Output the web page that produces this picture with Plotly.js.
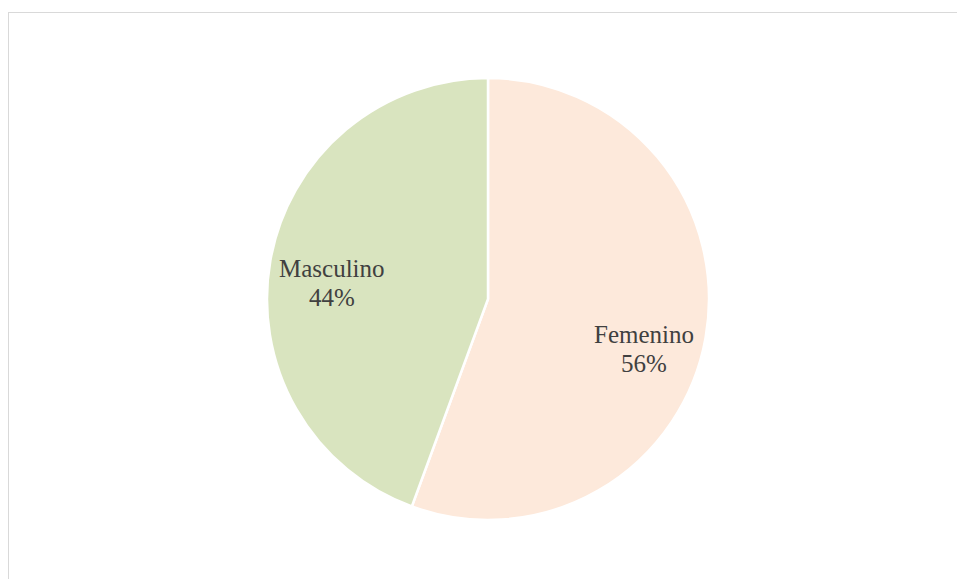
<!DOCTYPE html>
<html>
<head>
<meta charset="utf-8">
<script src="https://cdn.plot.ly/plotly-3.0.1.min.js"></script>
<style>
html,body{margin:0;padding:0;background:#fff;overflow:hidden;}
#frame{position:absolute;left:8px;top:12px;width:1000px;height:700px;border:1.5px solid #d9d9d9;box-sizing:border-box;}
#chart{position:absolute;left:0;top:0;width:957px;height:579px;}
</style>
</head>
<body>
<div id="frame"></div>
<div id="chart"></div>
<script>
const categories = ["Femenino", "Masculino"];
const shares = [55.6, 44.4];
const colors = ["#fde9db", "#d9e4bf"];

const W = 957, H = 579;
const cx = 488, cy = 299, R = 221;
const labelRx = 158, labelRy = 186, labelDrop = 17, lineGap = 14.5;
const font = {family: "Liberation Serif, Times New Roman, serif", size: 25, color: "#404040"};

const total = shares.reduce((a, b) => a + b, 0);
const annotations = [];
let acc = 0;
shares.forEach((v, i) => {
  const mid = (acc + v / 2) / total * 2 * Math.PI;
  acc += v;
  const px = cx + labelRx * Math.sin(mid);
  const py = cy - labelRy * Math.cos(mid) + labelDrop;
  const pct = Math.round(v / total * 100) + "%";
  [[categories[i], -lineGap], [pct, lineGap]].forEach(([t, dy]) => {
    annotations.push({
      text: t, showarrow: false, xref: "paper", yref: "paper",
      x: px / W, y: 1 - (py + dy) / H, xanchor: "center", yanchor: "middle",
      font: font
    });
  });
});

Plotly.newPlot("chart", [{
  type: "pie",
  labels: categories,
  values: shares,
  sort: false,
  direction: "clockwise",
  rotation: 0,
  marker: {colors: colors, line: {color: "#ffffff", width: 2.5}},
  textinfo: "none",
  hoverinfo: "none",
  domain: {x: [(cx - R) / W, (cx + R) / W], y: [1 - (cy + R) / H, 1 - (cy - R) / H]}
}], {
  width: W, height: H,
  margin: {l: 0, r: 0, t: 0, b: 0},
  paper_bgcolor: "rgba(0,0,0,0)",
  plot_bgcolor: "rgba(0,0,0,0)",
  showlegend: false,
  annotations: annotations
}, {displayModeBar: false, staticPlot: true});
</script>
</body>
</html>
